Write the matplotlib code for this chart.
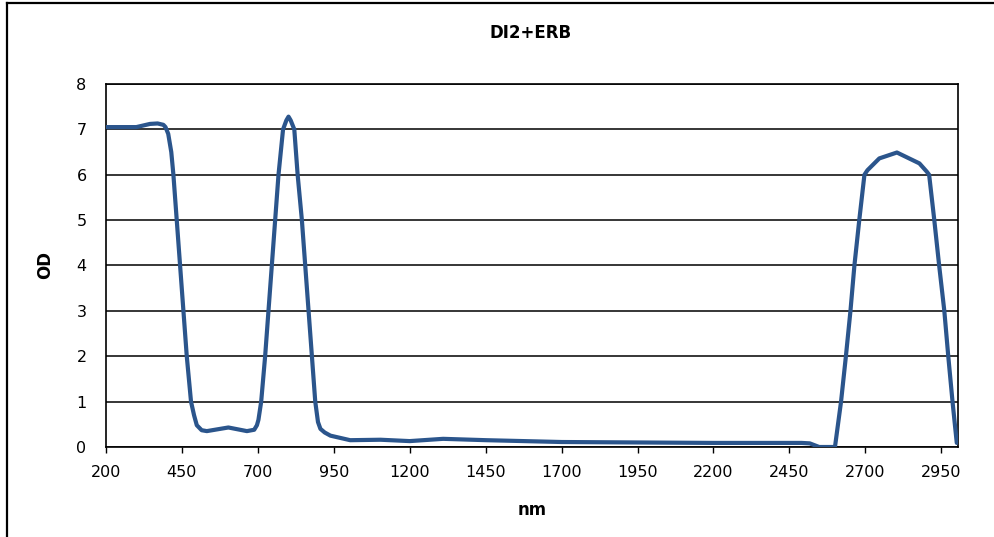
import numpy as np
import matplotlib.pyplot as plt
from matplotlib.lines import Line2D

# Valores (longitud de onda en nm, densidad optica)
nm = [200, 300, 345, 370, 389, 396, 405, 415, 422, 433, 444, 455, 466, 480, 490,
      499, 515, 532, 603, 664, 688, 697, 702, 711, 724, 735, 746, 757, 768, 783,
      794, 801, 808, 820, 831, 845, 856, 867, 878, 889, 898, 906, 920, 939, 1004,
      1104, 1200, 1310, 1452, 1700, 1950, 2200, 2490, 2517, 2548, 2600, 2620, 2636,
      2651, 2664, 2680, 2697, 2707, 2746, 2804, 2878, 2902, 2910, 2927, 2943, 2960,
      2973, 2987, 3001]
od = [7.05, 7.05, 7.12, 7.13, 7.1, 7.05, 6.9, 6.5, 6.0, 5.0, 4.0, 3.0, 2.0, 1.0, 0.7,
      0.48, 0.37, 0.35, 0.43, 0.35, 0.38, 0.48, 0.6, 1.0, 2.0, 3.0, 4.0, 5.0, 6.0, 7.0,
      7.2, 7.28, 7.2, 7.0, 6.0, 5.0, 4.0, 3.0, 2.0, 1.0, 0.55, 0.4, 0.32, 0.25, 0.15,
      0.16, 0.13, 0.18, 0.15, 0.11, 0.10, 0.09, 0.09, 0.08, 0.0, 0.0, 1.0, 2.0,
      3.0, 4.0, 5.0, 6.0, 6.1, 6.36, 6.49, 6.25, 6.07, 6.0, 5.0, 4.0, 3.0,
      2.0, 1.0, 0.09]

xticks = [200, 450, 700, 950, 1200, 1450, 1700, 1950, 2200, 2450, 2700, 2950]
yticks = [0, 1, 2, 3, 4, 5, 6, 7, 8]

plt.rcParams['font.family'] = ['DejaVu Sans']

fig = plt.figure(figsize=(9.95, 5.37), dpi=100)
ax = fig.add_axes([0.1065, 0.1676, 0.8563, 0.676])

ax.plot(nm, od, color='#2b558c', linewidth=3.0, solid_capstyle='round',
        solid_joinstyle='round', zorder=3)

ax.set_xlim(200, 3005)
ax.set_ylim(0, 8)
ax.set_xticks(xticks)
ax.set_yticks(yticks)
ax.yaxis.grid(True, color='black', linewidth=1.1)
ax.set_axisbelow(True)

ax.tick_params(axis='x', direction='out', length=4, width=1, pad=9, labelsize=11.5)
ax.tick_params(axis='y', length=0, pad=14, labelsize=11.5)
for s in ax.spines.values():
    s.set_color('black')
    s.set_linewidth(1.2)

ax.set_title("DI2+ERB", fontsize=12, fontweight='bold', pad=33, x=0.498)
ax.set_xlabel("nm", fontsize=12, fontweight='bold', labelpad=15)
ax.set_ylabel("OD", fontsize=12, fontweight='bold', labelpad=16)

# marco exterior (solo lados izquierdo y superior visibles)
fig.add_artist(Line2D([7/995, 7/995], [0, 1 - 3/537], color='black', linewidth=1.6))
fig.add_artist(Line2D([7/995, 1], [1 - 3/537, 1 - 3/537], color='black', linewidth=1.6))

fig.savefig("out.png", dpi=100)
